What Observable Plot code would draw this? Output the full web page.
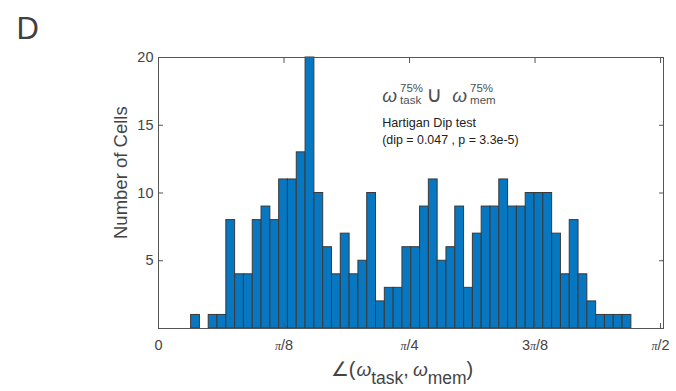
<!DOCTYPE html>
<html>
<head>
<meta charset="utf-8">
<script src="https://cdn.jsdelivr.net/npm/d3@7"></script>
<script src="https://cdn.jsdelivr.net/npm/@observablehq/plot@0.6"></script>
<style>
  body { margin: 0; background: #fff; }
  #chart svg { font-family: "Liberation Sans", Arial, sans-serif; }
</style>
</head>
<body>
<div id="chart"></div>
<script>
// Histogram counts (Number of Cells) per angle bin
const counts = [1, 0, 1, 1, 8, 4, 4, 8, 9, 8, 11, 11, 13, 20, 10, 6, 4, 7, 4, 5,
                10, 2, 3, 3, 6, 6, 9, 11, 5, 6, 9, 3, 7, 9, 9, 11, 9, 9, 10, 10,
                10, 7, 4, 8, 4, 2, 1, 1, 1, 1];
const binStart = 0.102;     // left edge of first bin (rad)
const binWidth = 0.02755;   // bin width (rad)
const xDomain = [0, 1.58];
const yDomain = [0, 20];
const xTicks = [0, Math.PI / 8, Math.PI / 4, 3 * Math.PI / 8, Math.PI / 2];
const xTickLabels = ["0", "π/8", "π/4", "3π/8", "π/2"];
const yTicks = [5, 10, 15, 20];
const yLabel = "Number of Cells";
const panelLabel = "D";
const annoTest = "Hartigan Dip test";
const annoStats = "(dip = 0.047 , p = 3.3e-5)";

const bins = counts.map((c, i) => ({
  x1: binStart + i * binWidth,
  x2: binStart + (i + 1) * binWidth,
  count: c
})).filter(d => d.count > 0);

const tickLabel = d => {
  let best = 0;
  xTicks.forEach((t, i) => { if (Math.abs(t - d) < Math.abs(xTicks[best] - d)) best = i; });
  return xTickLabels[best];
};

const axisGray = "#555555";
const textGray = "#444444";

const svg = Plot.plot({
  width: 676,
  height: 391,
  marginLeft: 158,
  marginRight: 13,
  marginTop: 57,
  marginBottom: 63,
  x: { domain: xDomain, label: null },
  y: { domain: yDomain, label: null },
  style: { background: "#fff", fontFamily: "Liberation Sans, Arial, sans-serif" },
  marks: [
    Plot.rect(bins, { x1: "x1", x2: "x2", y1: 0, y2: "count", fill: "#0677c0", stroke: "#3a3a3a", strokeWidth: 1 }),
    Plot.frame({ stroke: axisGray, strokeWidth: 1 }),
    // tick marks (inward)
    Plot.axisX({ anchor: "bottom", ticks: xTicks, tickSize: -5, tickFormat: () => "", label: null, stroke: axisGray }),
    Plot.axisX({ anchor: "top", ticks: xTicks, tickSize: -5, tickFormat: () => "", label: null, stroke: axisGray }),
    Plot.axisY({ anchor: "left", ticks: yTicks, tickSize: -5, tickFormat: () => "", label: null, stroke: axisGray }),
    Plot.axisY({ anchor: "right", ticks: yTicks, tickSize: -5, tickFormat: () => "", label: null, stroke: axisGray }),
    // tick labels
    Plot.axisX({ anchor: "bottom", ticks: xTicks, tickSize: 0, tickPadding: 11, tickFormat: tickLabel, label: null, fill: textGray, fontSize: 14.5 }),
    Plot.axisY({ anchor: "left", ticks: yTicks, tickSize: 0, tickPadding: 5, label: null, fill: textGray, fontSize: 14.5 }),
    // axis titles
    Plot.text([yLabel], { x: () => -0.118, y: () => 11.5, text: d => d, rotate: -90, fontSize: 18.5, fill: textGray }),
    Plot.text(["@xlabel"], { text: d => d, frameAnchor: "bottom", dx: -9, dy: 47, lineAnchor: "bottom", fontSize: 20, fill: textGray }),
    // panel label
    Plot.text([panelLabel], { text: d => d, frameAnchor: "top-left", dx: -142, dy: -19, lineAnchor: "bottom", textAnchor: "start", fontSize: 31, fill: "#404040" }),
    // annotation
    Plot.text(["@anno1"], { x: () => 0.70, y: () => 16.68, text: d => d, textAnchor: "start", lineAnchor: "bottom", fontSize: 17, fill: "#505050" }),
    Plot.text([annoTest], { x: () => 0.70, y: () => 14.85, text: d => d, textAnchor: "start", lineAnchor: "bottom", fontSize: 12.6, fill: "#222" }),
    Plot.text([annoStats], { x: () => 0.70, y: () => 13.65, text: d => d, textAnchor: "start", lineAnchor: "bottom", fontSize: 12.4, fill: "#222" })
  ]
});
document.getElementById("chart").append(svg);

function richText(el, parts) {
  if (!el) return;
  const t = d3.select(el);
  t.text(null);
  let shift = 0, lastLen = 0;
  for (const p of parts) {
    const ts = t.append("tspan").text(p.t);
    if (p.size) ts.attr("font-size", p.size);
    if (p.italic) ts.attr("font-style", "italic");
    if (p.family) ts.attr("font-family", p.family);
    const s = p.shift || 0;
    const dy = s - shift; shift = s;
    if (dy) ts.attr("dy", dy);
    let dx = p.dx || 0;
    if (p.under) dx -= lastLen;
    if (dx) ts.attr("dx", dx);
    lastLen = ts.node().getComputedTextLength();
  }
}

const allText = Array.from(svg.querySelectorAll("text"));
const byContent = s => allText.find(el => el.textContent === s);

// pi glyphs in tick labels
allText.forEach(el => {
  const s = el.textContent;
  if (s.includes("π") && !el.querySelector("tspan")) {
    const [a, b] = s.split("π");
    const parts = [];
    if (a) parts.push({ t: a });
    parts.push({ t: "π", size: 12, italic: true, family: "Liberation Serif, serif" });
    parts.push({ t: b });
    richText(el, parts);
  }
});

richText(byContent("@xlabel"), [
  { t: "∠(", size: 20 },
  { t: "ω", size: 19, italic: true, dx: 1 },
  { t: "task", size: 17.5, shift: 8 },
  { t: ",", size: 20, shift: 0 },
  { t: "ω", size: 19, italic: true, dx: 4 },
  { t: "mem", size: 17.5, shift: 8 },
  { t: ")", size: 20, shift: 0 }
]);

richText(byContent("@anno1"), [
  { t: "ω", size: 19, italic: true },
  { t: "75%", size: 11.5, shift: -10, dx: 3 },
  { t: "task", size: 11.5, shift: 2, under: true },
  { t: "∪", size: 22, shift: 0, dx: 5, family: "DejaVu Sans, sans-serif" },
  { t: "ω", size: 19, italic: true, dx: 10 },
  { t: "75%", size: 11.5, shift: -10, dx: 3 },
  { t: "mem", size: 11.5, shift: 2, under: true }
]);
</script>
</body>
</html>
